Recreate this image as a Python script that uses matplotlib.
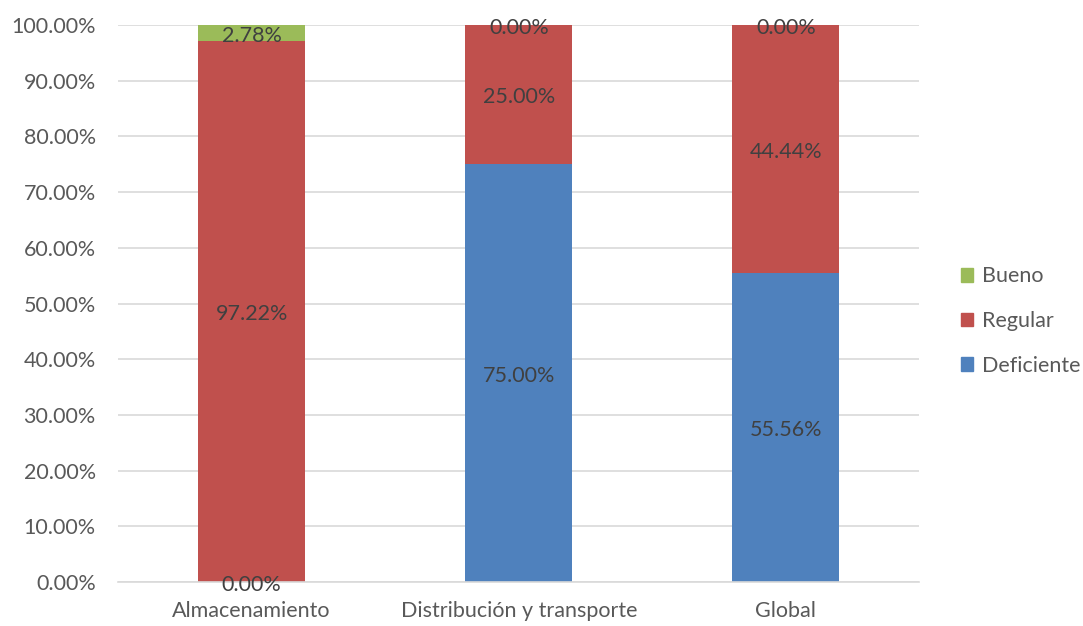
import matplotlib.pyplot as plt
import numpy as np
from matplotlib.ticker import PercentFormatter
from matplotlib.patches import Patch

categorias = ['Almacenamiento', 'Distribución y transporte', 'Global']
deficiente = [0.00, 75.00, 55.56]
regular = [97.22, 25.00, 44.44]
bueno = [2.78, 0.00, 0.00]

colores = {'Deficiente': '#4f81bd', 'Regular': '#c0504d', 'Bueno': '#9bbb59'}

plt.rcParams['font.family'] = ['Lato', 'DejaVu Sans']

fig = plt.figure(figsize=(10.83, 6.26), dpi=100)
ax = fig.add_axes([0.109, 0.0703, 0.74, 0.8897])

x = np.arange(len(categorias))
ancho = 0.4
base = np.zeros(len(categorias))
for nombre, vals in [('Deficiente', deficiente), ('Regular', regular), ('Bueno', bueno)]:
    vals = np.array(vals)
    ax.bar(x, vals, ancho, bottom=base, color=colores[nombre], zorder=2)
    for xi, b, v in zip(x, base, vals):
        ax.annotate(f'{v:.2f}%', (xi, b + v / 2), xytext=(0, -2),
                    textcoords='offset points', ha='center', va='center',
                    fontsize=15.5, color='#404040', zorder=3)
    base = base + vals

ax.set_xlim(-0.5, 2.5)
ax.set_ylim(0, 100)
ax.set_yticks(np.arange(0, 101, 10))
ax.yaxis.set_major_formatter(PercentFormatter(decimals=2))
ax.set_xticks(x)
ax.set_xticklabels(categorias)
ax.tick_params(axis='both', length=0, labelsize=15.5, colors='#595959')
ax.tick_params(axis='y', pad=16)
ax.tick_params(axis='x', pad=14)
ax.grid(axis='y', color='#d9d9d9', linewidth=1.2, zorder=0)
for s in ['top', 'right', 'left']:
    ax.spines[s].set_visible(False)
ax.spines['bottom'].set_color('#d9d9d9')
ax.spines['bottom'].set_linewidth(1.2)

handles = [Patch(color=colores[n]) for n in ['Bueno', 'Regular', 'Deficiente']]
leg = fig.legend(handles, ['Bueno', 'Regular', 'Deficiente'], loc='center left',
                 bbox_to_anchor=(0.869, 0.487), frameon=False, fontsize=15.5,
                 handlelength=0.6, handleheight=0.6, handletextpad=0.4,
                 labelspacing=1.15, labelcolor='#595959')

fig.savefig('out.png', dpi=100)
